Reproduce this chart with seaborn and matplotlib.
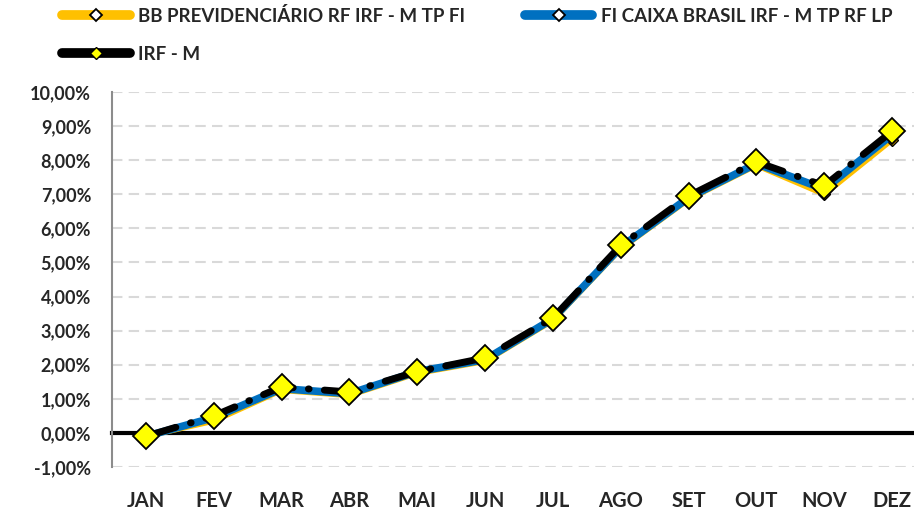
import numpy as np
import matplotlib.pyplot as plt
import seaborn as sns
import pandas as pd
from matplotlib.lines import Line2D
from matplotlib.ticker import FuncFormatter

meses = ["JAN", "FEV", "MAR", "ABR", "MAI", "JUN", "JUL", "AGO", "SET", "OUT", "NOV", "DEZ"]
bb_prev = [-0.10, 0.35, 1.25, 1.10, 1.75, 2.10, 3.30, 5.40, 6.85, 7.85, 7.00, 8.60]
fi_caixa = [-0.10, 0.45, 1.30, 1.15, 1.80, 2.15, 3.35, 5.45, 6.90, 7.90, 7.15, 8.75]
irf_m = [-0.10, 0.50, 1.35, 1.20, 1.80, 2.20, 3.37, 5.50, 6.95, 7.95, 7.25, 8.85]

df = pd.DataFrame({"pos": np.arange(len(meses)), "mes": meses,
                   "bb": bb_prev, "fi": fi_caixa, "irf": irf_m})

sns.set_style("white")
plt.rcParams["font.family"] = ["Lato", "DejaVu Sans"]
plt.rcParams["font.weight"] = "bold"

fig = plt.figure(figsize=(9.14, 5.13), dpi=100)
ax = fig.add_axes([112 / 914, 1 - 467 / 513, 814 / 914, 375 / 513])

c_bb = "#FFC000"
c_fi = "#0070C0"

sns.lineplot(data=df, x="pos", y="bb", ax=ax, color=c_bb, linewidth=4,
             marker="D", markersize=6, markerfacecolor=c_bb, markeredgecolor="black",
             markeredgewidth=1, sort=False, zorder=3)
sns.lineplot(data=df, x="pos", y="fi", ax=ax, color=c_fi, linewidth=5.5,
             marker="D", markersize=6, markerfacecolor=c_fi, markeredgecolor="black",
             markeredgewidth=1, sort=False, zorder=4)
sns.lineplot(data=df, x="pos", y="irf", ax=ax, color="black", linewidth=5,
             linestyle=(0, (4.5, 2.2, 0.1, 2.2)), dash_capstyle="round",
             sort=False, zorder=5)
ax.plot(df["pos"], df["irf"], linestyle="none", marker="D", markersize=13,
        markerfacecolor="#FFFF00", markeredgecolor="black", markeredgewidth=1.3, zorder=6)

ax.set_xlim(-0.5, len(meses) - 0.5)
ax.set_ylim(-1, 10)
ax.set_yticks(np.arange(-1, 11, 1))
ax.yaxis.set_major_formatter(FuncFormatter(lambda v, p: f"{v:.2f}".replace(".", ",") + "%"))
ax.grid(axis="y", color="#D9D9D9", linestyle=(0, (5, 3)), linewidth=1.5)
ax.grid(axis="x", visible=False)

for s in ["top", "right"]:
    ax.spines[s].set_visible(False)
ax.spines["left"].set_color("#8C8C8C")
ax.spines["left"].set_linewidth(1.5)
ax.spines["bottom"].set_position(("data", 0))
ax.spines["bottom"].set_color("black")
ax.spines["bottom"].set_linewidth(3)
ax.spines["bottom"].set_zorder(2)

ax.set_xticks(df["pos"])
ax.set_xticklabels(meses)
ax.set_xticks(np.arange(-0.5, len(meses), 1), minor=True)
ax.tick_params(axis="x", which="major", length=0, pad=42, labelsize=14.5)
ax.tick_params(axis="x", which="minor", length=5, width=3, color="black", direction="out")
ax.tick_params(axis="y", length=5, width=1.5, color="#8C8C8C", direction="out", labelsize=13, pad=10)
ax.set_xlabel("")
ax.set_ylabel("")

handles = [
    Line2D([], [], color=c_bb, linewidth=7, solid_capstyle="round", marker="D", markersize=6,
           markerfacecolor="white", markeredgecolor="black", markeredgewidth=1.3),
    Line2D([], [], color="black", linewidth=7, solid_capstyle="round", marker="D", markersize=6,
           markerfacecolor="#FFFF00", markeredgecolor="black", markeredgewidth=1),
    Line2D([], [], color=c_fi, linewidth=7, solid_capstyle="round", marker="D", markersize=6,
           markerfacecolor="white", markeredgecolor="black", markeredgewidth=1.3),
]
labels = ["BB PREVIDENCIÁRIO RF IRF - M TP FI", "IRF - M", "FI CAIXA BRASIL IRF - M TP RF LP"]
fig.legend(handles, labels, ncol=2, loc="upper left", bbox_to_anchor=(62 / 914, 1 - 7 / 513),
           frameon=False, fontsize=13.5, handlelength=3.6, handletextpad=0.45,
           columnspacing=3.2, labelspacing=1.1, borderaxespad=0, borderpad=0)

fig.savefig("out.png", dpi=100)
